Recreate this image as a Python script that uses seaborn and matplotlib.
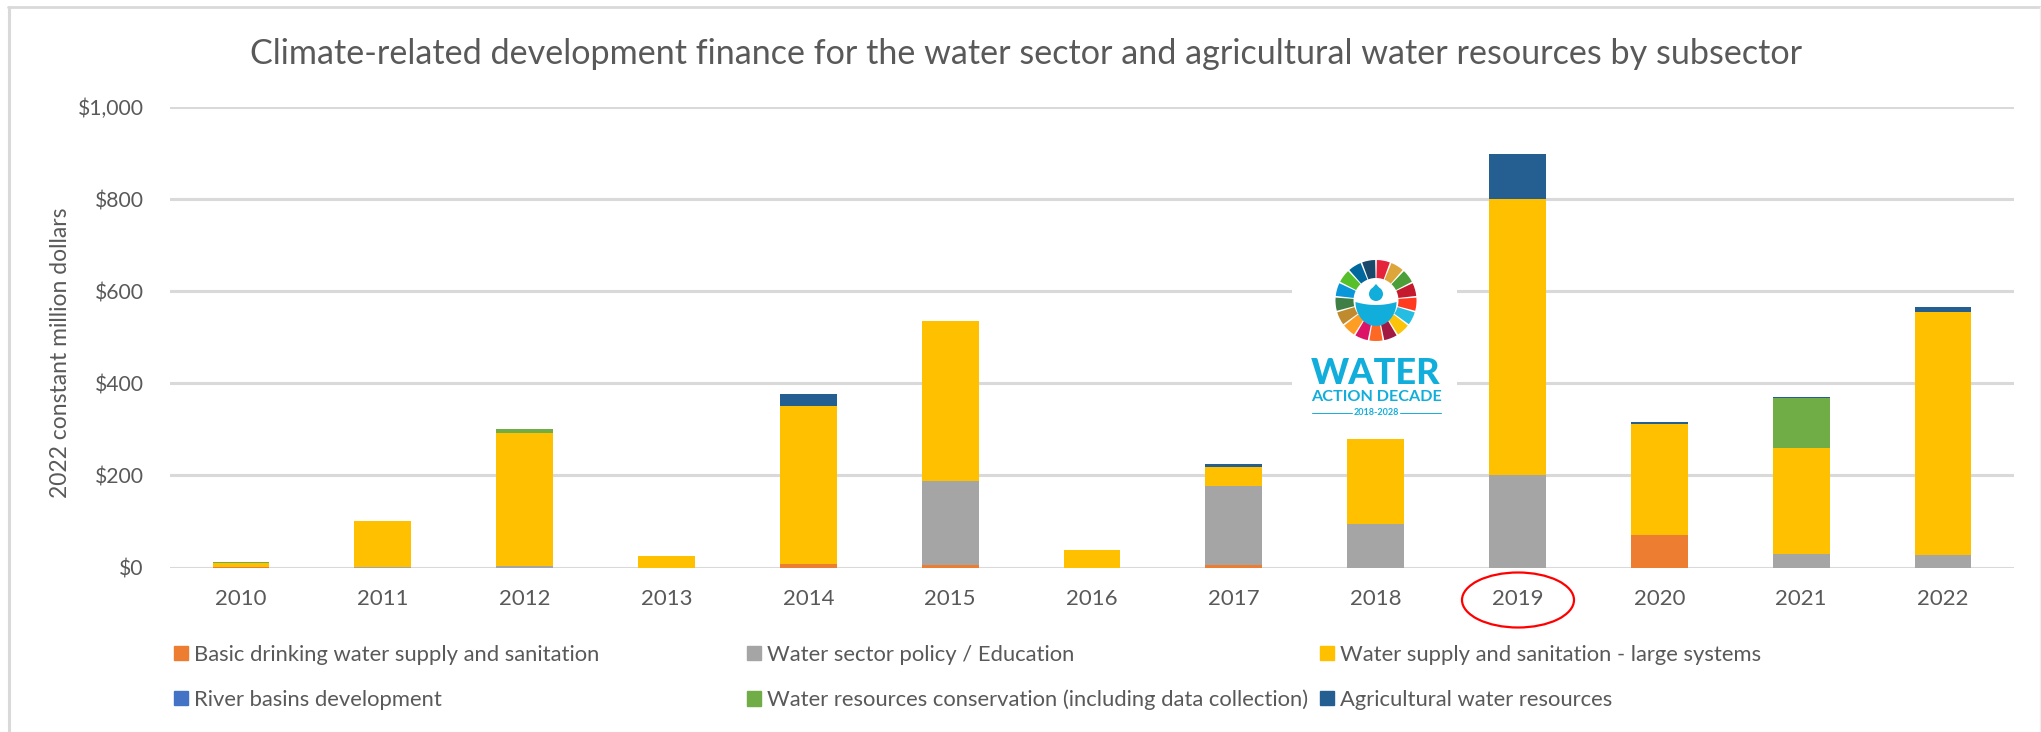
import numpy as np
import seaborn as sns
import matplotlib
matplotlib.use("Agg")
import matplotlib.pyplot as plt
from matplotlib.patches import Patch, Rectangle, Wedge, Ellipse, Polygon, Circle
from matplotlib.lines import Line2D

# Funding by subsector, 2022 constant million dollars
years = [str(y) for y in range(2010, 2023)]
basic_water = [1, 0, 0, 0, 8, 5, 0, 5, 0, 0, 70, 0, 0]
policy_education = [0, 2, 3, 0, 0, 182, 0, 173, 95, 200, 0, 30, 28]
large_systems = [8, 100, 289, 25, 343, 348, 37, 40, 185, 600, 242, 230, 527]
river_basins = [0, 0, 0, 0, 0, 0, 0, 0, 0, 0, 0, 0, 0]
conservation = [3, 0, 8, 0, 0, 0, 0, 0, 0, 0, 0, 107, 0]
agricultural = [0, 0, 0, 0, 26, 0, 0, 7, 0, 97, 3, 3, 11]

series_names = [
    "Basic drinking water supply and sanitation",
    "Water sector policy / Education",
    "Water supply and sanitation - large systems",
    "River basins development",
    "Water resources conservation (including data collection)",
    "Agricultural water resources",
]
series_values = [basic_water, policy_education, large_systems,
                 river_basins, conservation, agricultural]
series_colors = ["#ED7D31", "#A5A5A5", "#FFC000", "#4472C4", "#70AD47", "#255E91"]
y_ticks = [0, 200, 400, 600, 800, 1000]
y_tick_labels = ["$0", "$200", "$400", "$600", "$800", "$1,000"]

W, H = 2041, 732
TEXT = "#595959"
GRID = "#D9D9D9"

sns.set_theme(style="white")
plt.rcParams["font.family"] = ["Lato", "DejaVu Sans"]

fig = plt.figure(figsize=(W / 100, H / 100), dpi=100, facecolor="white")
ax = fig.add_axes([170 / W, 1 - 567.5 / H, (2014 - 170) / W, (567.5 - 107) / H])

base = np.zeros(len(years))
for values, color in zip(series_values, series_colors):
    values = np.array(values, dtype=float)
    sns.barplot(x=years, y=values, bottom=base, color=color, saturation=1,
                width=0.4, ax=ax, zorder=3, linewidth=0)
    base += values

ax.set_xlim(-0.5, 12.5)
ax.set_ylim(0, 1000)
ax.set_yticks(y_ticks, y_tick_labels)
ax.yaxis.grid(True, color=GRID, linewidth=2.2, zorder=0)
ax.set_axisbelow(True)
sns.despine(ax=ax, left=True, bottom=True, top=True, right=True)
ax.tick_params(axis="x", length=0, pad=15.5, labelsize=16, labelcolor=TEXT)
ax.tick_params(axis="y", length=0, pad=19, labelsize=15.2, labelcolor=TEXT)
ax.set_ylabel("2022 constant million dollars", fontsize=16.5, color=TEXT)
ax.yaxis.set_label_coords((71 - 170) / (2014 - 170), 0.466)

fig.text(1026 / W, 1 - 54.5 / H, "Climate-related development finance for the water sector "
         "and agricultural water resources by subsector",
         ha="center", va="center", fontsize=24.6, color=TEXT)

# Legend columns sit at their own offsets, two entries in each
legend_columns = [(174, [0, 3]), (747, [1, 4]), (1320, [2, 5])]
for x_px, members in legend_columns:
    handles = [Patch(color=series_colors[i], label=series_names[i]) for i in members]
    fig.legend(handles=handles, loc="upper left",
               bbox_to_anchor=(x_px / W, 1 - 645 / H), frameon=False,
               fontsize=15.8, labelcolor=TEXT, handlelength=0.62,
               handleheight=0.62, handletextpad=0.28, labelspacing=1.12,
               borderpad=0, borderaxespad=0)

# Overlay in pixel-sized units for the frame, callout and logo
ov = fig.add_axes([0, 0, 1, 1], facecolor="none", zorder=5)
ov.set_xlim(0, W)
ov.set_ylim(H, 0)
ov.axis("off")

ov.add_line(Line2D([8.5, 8.5], [7, H], color=GRID, lw=2.2))
ov.add_line(Line2D([8, W], [7, 7], color=GRID, lw=2))
ov.add_line(Line2D([2040, 2040], [7, H], color="#EFEFEF", lw=1))

ov.add_patch(Ellipse((1518, 600), 112, 55, fill=False, edgecolor="#FF0000", lw=1.6))

# Water Action Decade logo
ov.add_patch(Rectangle((1292, 250), 165, 178, facecolor="white", edgecolor="none"))
ring_colors = ["#E5243B", "#DDA63A", "#4C9F38", "#C5192D", "#FF3A21", "#26BDE2",
               "#FCC30B", "#A21942", "#FD6925", "#DD1367", "#FD9D24", "#BF8B2E",
               "#3F7E44", "#0A97D9", "#56C02B", "#00689D", "#19486A"]
cx, cy = 1376, 300.5
step = 360 / 17
for i, color in enumerate(ring_colors):
    # The overlay's y axis runs downward, so angles grow clockwise on screen
    start = -90 + i * step + 1.2
    ov.add_patch(Wedge((cx, cy), 40.5, start, start + step - 2.4, width=18,
                       facecolor=color, edgecolor="none"))
LOGO_BLUE = "#12AEDB"
# Bowl: shallow upper curve over a deep lower arc
t = np.linspace(0, np.pi, 40)
lower = np.column_stack([cx + 20.5 * np.cos(t), 302 + 24 * np.sin(t)])
top_x = np.linspace(cx - 20.5, cx + 20.5, 30)
upper = np.column_stack([top_x, 302 + 3 * (1 - ((top_x - cx) / 20.5) ** 2)])
ov.add_patch(Polygon(np.vstack([lower, upper]), facecolor=LOGO_BLUE, edgecolor="none"))
ov.add_patch(Circle((cx, 294), 7, facecolor=LOGO_BLUE, edgecolor="none"))
ov.add_patch(Polygon([(cx - 6.2, 291), (cx, 284), (cx + 6.2, 291)],
                     facecolor=LOGO_BLUE, edgecolor="none"))
ov.text(cx, 373, "WATER", ha="center", va="center", fontsize=26, fontweight="black",
        color=LOGO_BLUE, family="Lato")
ov.text(cx, 397, "ACTION DECADE", ha="center", va="center", fontsize=11.6, fontweight="bold",
        color=LOGO_BLUE, family="Lato")
ov.text(cx, 412.5, "2018-2028", ha="center", va="center", fontsize=6.5, fontweight="bold",
        color=LOGO_BLUE, family="Lato")
ov.add_line(Line2D([1312, 1352], [412.5, 412.5], color=LOGO_BLUE, lw=0.7))
ov.add_line(Line2D([1400, 1441], [412.5, 412.5], color=LOGO_BLUE, lw=0.7))

fig.savefig("out.png", dpi=100)
